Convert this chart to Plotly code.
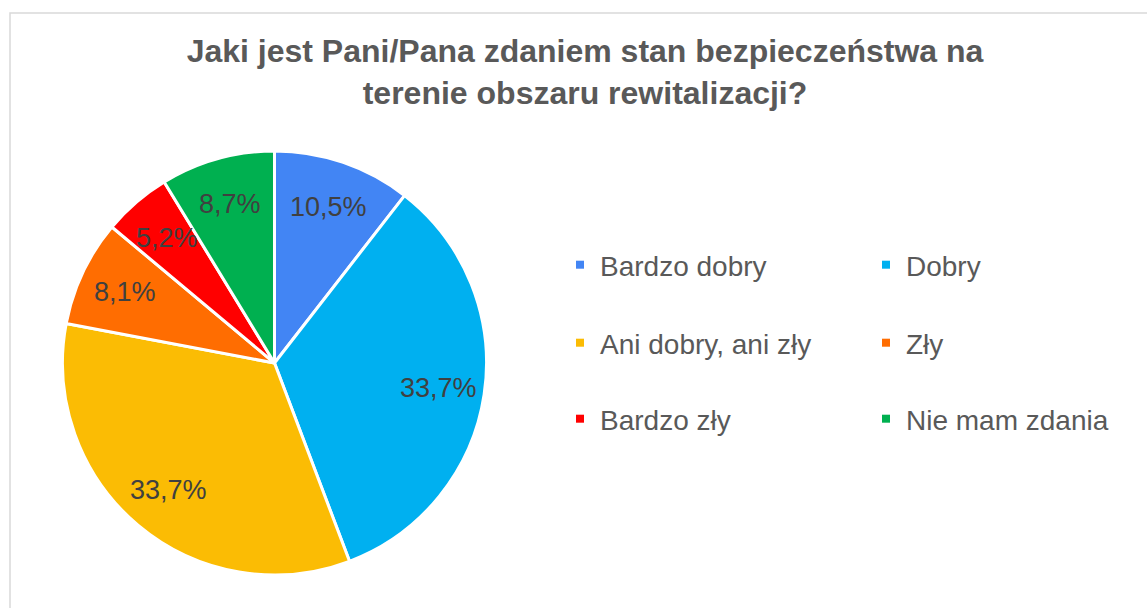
import math
import plotly.graph_objects as go

categories = ["Bardzo dobry", "Dobry", "Ani dobry, ani zły", "Zły", "Bardzo zły", "Nie mam zdania"]
values = [10.5, 33.7, 33.7, 8.1, 5.2, 8.7]
colors = ["#4285F4", "#00B0F0", "#FBBC04", "#FF6D01", "#FF0000", "#00B050"]
title_text = "Jaki jest Pani/Pana zdaniem stan bezpieczeństwa na<br>terenie obszaru rewitalizacji?"

W, H = 1147, 608
FONT = "Arial, Liberation Sans, sans-serif"

# pie domain (paper fractions)
dom_x = [62 / W, 487 / W]
dom_y = [1 - 575 / H, 1 - 151 / H]

fig = go.Figure()
fig.add_trace(go.Pie(
    labels=categories, values=values, sort=False, direction="clockwise", rotation=0,
    marker=dict(colors=colors, line=dict(color="white", width=3)),
    textinfo="none", textposition="none",
    showlegend=False, hoverinfo="label+value",
    domain=dict(x=dom_x, y=dom_y),
))

# data labels placed along each slice bisector (computed from the values)
cx = (dom_x[0] + dom_x[1]) / 2 * W
cy = (1 - (dom_y[0] + dom_y[1]) / 2) * H
R = min((dom_x[1] - dom_x[0]) * W, (dom_y[1] - dom_y[0]) * H) / 2
total = sum(values)
cum = 0.0
annotations = []
for v in values:
    mid = (cum + v / 2) / total * 2 * math.pi
    cum += v
    r = 0.78 * R
    px = cx + r * math.sin(mid)
    py = cy - r * math.cos(mid)
    annotations.append(dict(
        x=px / W, y=1 - py / H, xref="paper", yref="paper", showarrow=False,
        text=f"{v:.1f}".replace(".", ",") + "%",
        font=dict(family=FONT, size=27, color="#404040"),
        xanchor="center", yanchor="middle",
    ))

legend_names = ["legend", "legend2", "legend3"]
for i, (cat, col) in enumerate(zip(categories, colors)):
    fig.add_trace(go.Scatter(
        x=[None], y=[None], mode="markers", name=cat,
        marker=dict(symbol="square", size=8, color=col),
        legend=legend_names[i // 2], showlegend=True, hoverinfo="skip",
    ))

row_y = [265, 343, 419]
leg_common = dict(orientation="h", entrywidth=261, entrywidthmode="pixels",
                  font=dict(family=FONT, size=28, color="#595959"),
                  bgcolor="rgba(0,0,0,0)", xanchor="left", yanchor="middle",
                  x=560 / W, itemclick=False, itemdoubleclick=False)
fig.update_layout(
    legend=dict(y=1 - row_y[0] / H, **leg_common),
    legend2=dict(y=1 - row_y[1] / H, **leg_common),
    legend3=dict(y=1 - row_y[2] / H, **leg_common),
)

fig.update_layout(
    width=W, height=H,
    margin=dict(l=0, r=0, t=0, b=0, autoexpand=False),
    paper_bgcolor="white", plot_bgcolor="white",
    separators=",.",
    title=dict(text=title_text, x=585 / W, xanchor="center", y=1 - 62 / H, yanchor="middle",
               font=dict(family=FONT, size=32, color="#595959", weight="bold")),
    xaxis=dict(visible=False), yaxis=dict(visible=False),
    annotations=annotations,
    shapes=[dict(type="rect", xref="paper", yref="paper", x0=10 / W, x1=1.01, y0=-0.01, y1=1 - 13 / H,
                 line=dict(color="#D9D9D9", width=1.5), layer="below")],
)

fig.write_html("out.html", config={"displayModeBar": False},
               post_script="document.body.style.margin='0';")
